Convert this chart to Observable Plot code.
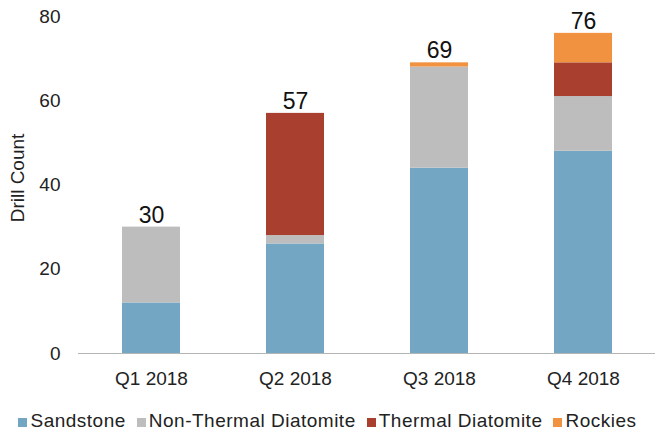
<!DOCTYPE html>
<html><head><meta charset="utf-8">
<script src="https://cdn.jsdelivr.net/npm/d3@7"></script>
<script src="https://cdn.jsdelivr.net/npm/@observablehq/plot@0.6"></script>
<style>
body{margin:0;background:#fff;font-family:"Liberation Sans",Arial,sans-serif;}
#legend{display:flex;justify-content:center;gap:11px;font-size:19px;letter-spacing:0.5px;color:#222;margin-top:12px;line-height:22px;}
#legend span.sw{display:inline-block;width:9px;height:9px;margin-right:3px;}
</style></head>
<body>
<div id="chart"></div>
<div id="legend"></div>
<script>
const quarters = ["Q1 2018","Q2 2018","Q3 2018","Q4 2018"];
const seriesNames = ["Sandstone","Non-Thermal Diatomite","Thermal Diatomite","Rockies"];
const sandstone = [12, 26, 44, 48];
const nonThermal = [18, 2, 24, 13];
const thermal = [0, 29, 0, 8];
const rockies = [0, 0, 1, 7];
const colors = ["#72A6C3","#BDBDBD","#A9402F","#F19240"];
const yTicks = [0,20,40,60,80];

const seriesValues = [sandstone, nonThermal, thermal, rockies];
const data = [];
seriesNames.forEach((s,i)=>quarters.forEach((q,j)=>data.push({quarter:q, series:s, value:seriesValues[i][j]})));

const chart = Plot.plot({
  width: 655, height: 398,
  marginLeft: 78, marginRight: 0, marginTop: 16, marginBottom: 45,
  style: {fontFamily: '"Liberation Sans",Arial,sans-serif', fontSize: "19px", color: "#222"},
  x: {domain: quarters, paddingInner: 0.6, paddingOuter: 0.3, label: null, tickSize: 0, tickPadding: 18},
  y: {domain: [0,80], ticks: yTicks, label: null, tickSize: 0, tickPadding: 18},
  color: {domain: seriesNames, range: colors},
  marks: [
    Plot.barY(data, {x:"quarter", y:"value", fill:"series", order: seriesNames}),
    Plot.ruleY([0], {stroke:"#b5b5b5", strokeWidth:1.2}),
    Plot.text(data, Plot.groupX({y:"sum", text:"sum"}, {x:"quarter", y:"value", text:"value", dy:-12, fontSize:23, fill:"#111"})),
    Plot.text(["Drill Count"], {frameAnchor:"left", textAnchor:"middle", rotate:-90, dx:-61, dy:-7, fontSize:19, fill:"#222"})
  ]
});
document.getElementById("chart").append(chart);

const lg = document.getElementById("legend");
seriesNames.forEach((s,i)=>{
  const d = document.createElement("div");
  d.innerHTML = `<span class="sw" style="background:${colors[i]}"></span>${s}`;
  lg.append(d);
});
</script>
</body></html>
